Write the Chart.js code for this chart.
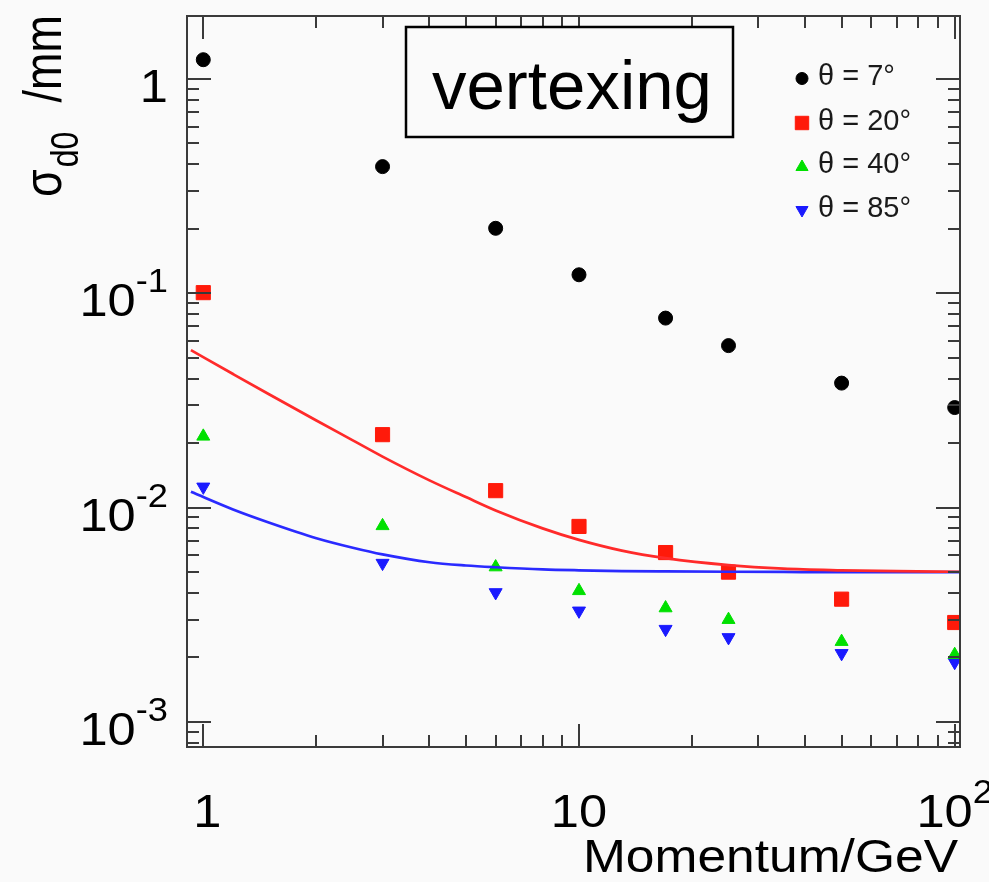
<!DOCTYPE html>
<html><head><meta charset="utf-8">
<script src="https://cdn.jsdelivr.net/npm/chart.js@4.4.1/dist/chart.umd.min.js"></script>
<style>html,body{margin:0;padding:0;background:#fafafa;}canvas{display:block;}</style>
</head><body>
<canvas id="c" width="989" height="882"></canvas>
<script>
// ---- data ----
const momentum     = [1, 3, 6, 10, 17, 25, 50, 100];
const sigmaTheta7  = [1.23, 0.390, 0.201, 0.122, 0.0766, 0.0570, 0.0381, 0.0293];
const sigmaTheta20 = [0.1007, 0.0219, 0.0120, 0.00817, 0.00617, 0.00500, 0.00374, 0.00291];
const sigmaTheta40 = [0.0215, 0.00822, 0.00528, 0.00409, 0.00340, 0.00300, 0.00237, 0.00206];
const sigmaTheta85 = [0.0125, 0.00551, 0.00402, 0.00330, 0.00271, 0.00248, 0.00209, 0.00190];
const seriesLabels = ['θ = 7°', 'θ = 20°', 'θ = 40°', 'θ = 85°'];

const fitMomentum = [0.927, 1.2, 1.5, 2, 2.5, 3, 4, 5, 6, 8, 10, 13, 17, 25, 35, 50, 70, 103.3];
const fitTheta20  = [0.0543, 0.0420, 0.0337, 0.0255, 0.0206, 0.0173, 0.0134, 0.0112, 0.0097, 0.0080, 0.00707, 0.0063, 0.00581, 0.00539, 0.00519, 0.00510, 0.00505, 0.00502];
const fitTheta85  = [0.01185, 0.0098, 0.0085, 0.0072, 0.0065, 0.00605, 0.00556, 0.00537, 0.00527, 0.00515, 0.0051, 0.00506, 0.00504, 0.00502, 0.00501, 0.00500, 0.00500, 0.00500];

const xMajorTicks = [1, 10, 100];
const xTickLabels = [['1', ''], ['10', ''], ['10', '2']];
const yMajorTicks = [0.001, 0.01, 0.1, 1];
const yTickLabels = [['10', '-3'], ['10', '-2'], ['10', '-1'], ['1', '']];
const xRange = [0.905, 103.3];
const yRange = [7.64e-4, 1.967];
const xTitle = 'Momentum/GeV';
const yTitleParts = ['σ', 'd0', '/mm'];
const boxLabel = 'vertexing';

// ---- styling ----
const FONT = '"Liberation Sans", Arial, Helvetica, sans-serif';
const FRAME = '#3a3a3a';
const colors = ['#000000', '#ff1a0a', '#00e000', '#1a1aff'];
const styles = [
  {pointStyle: 'circle', radius: 7, rotation: 0},
  {pointStyle: 'rect', radius: 10, rotation: 0},
  {pointStyle: 'triangle', radius: 7.5, rotation: 0},
  {pointStyle: 'triangle', radius: 7.5, rotation: 180}
];
const seriesValues = [sigmaTheta7, sigmaTheta20, sigmaTheta40, sigmaTheta85];

const toXY = (xs, ys) => xs.map((x, i) => ({x: x, y: ys[i]}));

const fitSets = [
  {label: 'fit θ = 20°', data: toXY(fitMomentum, fitTheta20), showLine: true, borderColor: '#ff2a2a',
   borderWidth: 2.7, pointRadius: 0, cubicInterpolationMode: 'monotone', fill: false},
  {label: 'fit θ = 85°', data: toXY(fitMomentum, fitTheta85), showLine: true, borderColor: '#2a2aff',
   borderWidth: 2.7, pointRadius: 0, cubicInterpolationMode: 'monotone', fill: false}
];
const markerSets = seriesValues.map((vals, i) => ({
  label: seriesLabels[i], data: toXY(momentum, vals), showLine: false,
  pointStyle: styles[i].pointStyle, pointRadius: styles[i].radius, pointRotation: styles[i].rotation,
  backgroundColor: colors[i], borderColor: colors[i], borderWidth: 1, pointHoverRadius: styles[i].radius
}));

function drawPow(ctx, base, exp, x, y, align, size, supSize, sx, rise) {
  ctx.save();
  ctx.font = size + 'px ' + FONT;
  const wb = ctx.measureText(base).width;
  ctx.font = supSize + 'px ' + FONT;
  const we = exp ? ctx.measureText(exp).width : 0;
  const total = (wb + we) * sx;
  let x0 = align === 'right' ? x - total : (align === 'center' ? x - total / 2 : x);
  ctx.translate(x0, y);
  ctx.scale(sx, 1);
  ctx.textAlign = 'left';
  ctx.textBaseline = 'alphabetic';
  ctx.font = size + 'px ' + FONT;
  ctx.fillText(base, 0, 0);
  if (exp) { ctx.font = supSize + 'px ' + FONT; ctx.fillText(exp, wb, -rise); }
  ctx.restore();
}

const rootStyle = {
  id: 'rootStyle',
  beforeDraw(chart) {
    const ctx = chart.ctx;
    ctx.save(); ctx.fillStyle = '#fafafa'; ctx.fillRect(0, 0, chart.width, chart.height); ctx.restore();
  },
  afterDraw(chart) {
    const ctx = chart.ctx, xs = chart.scales.x, ys = chart.scales.y, a = chart.chartArea;
    ctx.save();
    ctx.strokeStyle = FRAME; ctx.lineWidth = 2;
    const line = (x1, y1, x2, y2) => { ctx.beginPath(); ctx.moveTo(x1, y1); ctx.lineTo(x2, y2); ctx.stroke(); };
    for (let e = -4; e <= 0; e++) {
      for (let k = 1; k <= 9; k++) {
        const v = k * Math.pow(10, e);
        if (v < yRange[0] || v > yRange[1]) continue;
        const p = Math.round(ys.getPixelForValue(v));
        const len = k === 1 ? 24 : 12;
        line(a.left, p, a.left + len, p);
        line(a.right, p, a.right - len, p);
      }
    }
    for (let e = -1; e <= 2; e++) {
      for (let k = 1; k <= 9; k++) {
        const v = k * Math.pow(10, e);
        if (v < xRange[0] || v > xRange[1]) continue;
        const p = Math.round(xs.getPixelForValue(v));
        const len = k === 1 ? 23 : 12;
        line(p, a.bottom, p, a.bottom - len);
        line(p, a.top, p, a.top + len);
      }
    }
    ctx.strokeRect(a.left, a.top, a.right - a.left, a.bottom - a.top);
    ctx.restore();

    // tick labels
    ctx.save(); ctx.fillStyle = '#000';
    yMajorTicks.forEach((v, i) => {
      const p = ys.getPixelForValue(v);
      drawPow(ctx, yTickLabels[i][0], yTickLabels[i][1], 168, p + 23, 'right', 46, 33, 1.1, 24);
    });
    xMajorTicks.forEach((v, i) => {
      const p = xs.getPixelForValue(v);
      drawPow(ctx, xTickLabels[i][0], xTickLabels[i][1], p + (i === 0 ? 4 : 0), a.bottom + 80, 'center', 46, 33, 1.1, 24);
    });
    ctx.font = '46px ' + FONT;
    const wt = ctx.measureText(xTitle).width * 1.12;
    ctx.translate(958 - wt, 872); ctx.scale(1.12, 1); ctx.textAlign = 'left'; ctx.fillText(xTitle, 0, 0);
    ctx.restore();

    // y title (rotated, with subscript)
    ctx.save(); ctx.fillStyle = '#000';
    ctx.translate(61, 197); ctx.rotate(-Math.PI / 2); ctx.scale(1, 1.2);
    ctx.textAlign = 'left'; ctx.textBaseline = 'alphabetic';
    ctx.font = '45px ' + FONT; ctx.fillText(yTitleParts[0], 0, 0);
    const ws = ctx.measureText(yTitleParts[0]).width;
    ctx.font = '32px ' + FONT; ctx.fillText(yTitleParts[1], ws + 2, 14);
    ctx.font = '45px ' + FONT; ctx.textAlign = 'right'; ctx.fillText(yTitleParts[2], 182, 0);
    ctx.restore();

    // vertexing box
    ctx.save();
    ctx.fillStyle = '#fafafa'; ctx.fillRect(406, 27, 327, 110);
    ctx.strokeStyle = '#000'; ctx.lineWidth = 2.5; ctx.strokeRect(406, 27, 327, 110);
    ctx.fillStyle = '#000'; ctx.font = '69px ' + FONT; ctx.textAlign = 'left'; ctx.textBaseline = 'alphabetic';
    ctx.fillText(boxLabel, 432, 109);
    ctx.restore();

    // legend
    ctx.save();
    const rowY = [78.5, 123, 167, 210];
    const baseY = [85, 129.5, 173, 216.5];
    const legendStyles = [
      {pointStyle: 'circle', radius: 6, rotation: 0},
      {pointStyle: 'rect', radius: 9.5, rotation: 0},
      {pointStyle: 'triangle', radius: 7, rotation: 0},
      {pointStyle: 'triangle', radius: 7, rotation: 180}
    ];
    markerSets.forEach((ds, i) => {
      ctx.fillStyle = colors[i]; ctx.strokeStyle = colors[i]; ctx.lineWidth = 1;
      Chart.helpers.drawPoint(ctx, {pointStyle: legendStyles[i].pointStyle, rotation: legendStyles[i].rotation,
        radius: legendStyles[i].radius, borderWidth: 1}, 802, rowY[i]);
      ctx.fillStyle = '#1a1a1a'; ctx.font = '29px ' + FONT; ctx.textAlign = 'left'; ctx.textBaseline = 'alphabetic';
      ctx.fillText(ds.label, 818, baseY[i]);
    });
    ctx.restore();
  }
};

new Chart(document.getElementById('c'), {
  type: 'scatter',
  data: {datasets: fitSets.concat(markerSets)},
  options: {
    responsive: false, animation: false, devicePixelRatio: 1,
    layout: {padding: {left: 0, right: 29, top: 16, bottom: 0}},
    plugins: {legend: {display: false}, tooltip: {enabled: false}},
    scales: {
      x: {type: 'logarithmic', position: 'bottom', min: xRange[0], max: xRange[1],
          grid: {display: false}, border: {display: false}, ticks: {display: false},
          afterFit(s) { s.height = 135; }},
      y: {type: 'logarithmic', position: 'left', min: yRange[0], max: yRange[1],
          grid: {display: false}, border: {display: false}, ticks: {display: false},
          afterFit(s) { s.width = 187; }}
    }
  },
  plugins: [rootStyle]
});
</script>
</body></html>
